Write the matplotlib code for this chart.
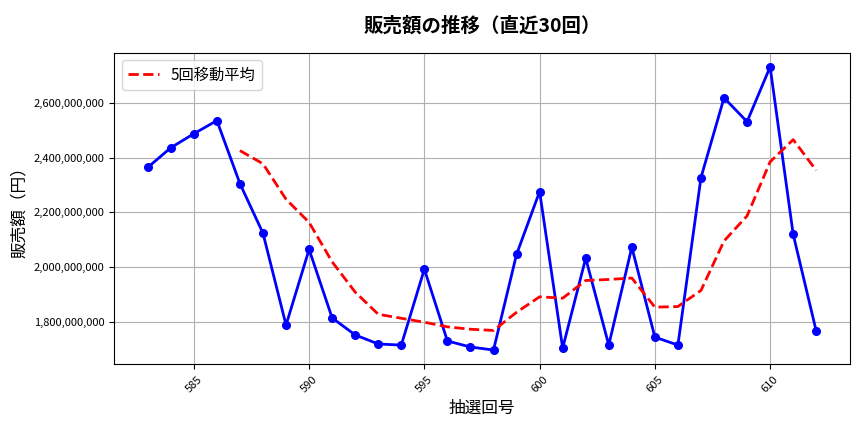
import numpy as np
import pandas as pd
import matplotlib
matplotlib.use("Agg")
import matplotlib.pyplot as plt
from matplotlib.ticker import FuncFormatter

plt.rcParams['font.family'] = ['Noto Sans CJK JP', 'DejaVu Sans']

draws = list(range(583, 613))
sales = [
    2364e6, 2436e6, 2487e6, 2535e6, 2305e6, 2124e6, 1789e6, 2065e6, 1815e6, 1753e6,
    1720e6, 1716e6, 1993e6, 1731e6, 1709e6, 1698e6, 2047e6, 2276e6, 1705e6, 2033e6,
    1716e6, 2073e6, 1745e6, 1716e6, 2327e6, 2618e6, 2531e6, 2731e6, 2120e6, 1767e6,
]

moving_avg = pd.Series(sales).rolling(5).mean()

fig, ax = plt.subplots(figsize=(8.64, 4.32), dpi=100)
ax.plot(draws, sales, color='blue', marker='o', linewidth=2, markersize=5.5)
ax.plot(draws, moving_avg, color='red', linestyle='--', linewidth=2, label='5回移動平均')

ax.set_title('販売額の推移（直近30回）', fontsize=14, fontweight='bold', pad=15)
ax.set_xlabel('抽選回号', fontsize=12)
ax.set_ylabel('販売額（円）', fontsize=12)
ax.yaxis.set_major_formatter(FuncFormatter(lambda v, p: f'{v:,.0f}'))
ax.tick_params(axis='both', labelsize=8)
plt.setp(ax.get_xticklabels(), rotation=45)
ax.grid(True)
ax.legend(loc='upper left', fontsize=11)

fig.subplots_adjust(left=0.1323, right=0.9834, top=0.878, bottom=0.157)
plt.savefig('out.png', dpi=100)
plt.close()
